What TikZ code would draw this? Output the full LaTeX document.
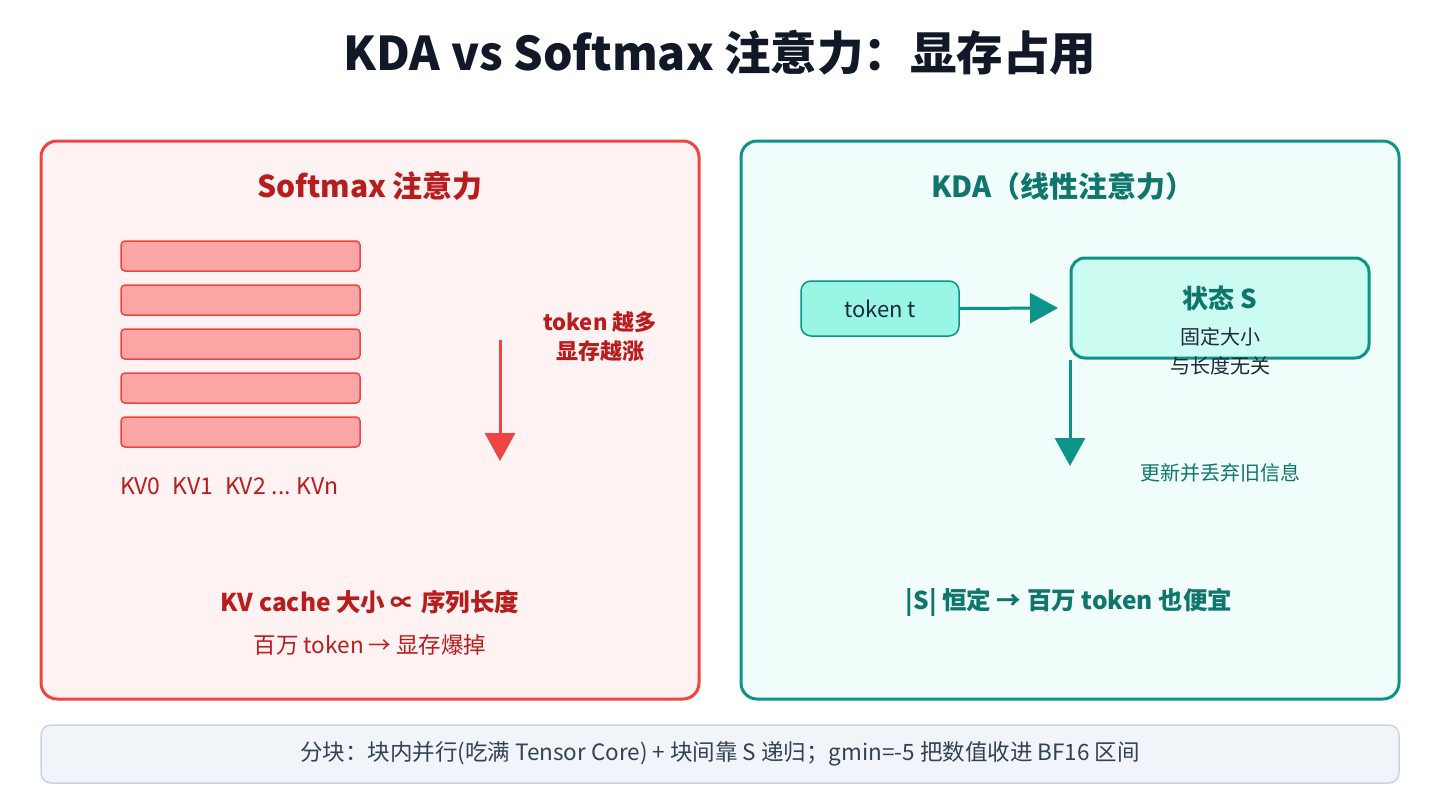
\documentclass[tikz,border=0pt]{standalone}
\usepackage{fontspec}
\setmainfont{Noto Sans CJK SC}
\usetikzlibrary{arrows.meta}
\definecolor{navy}{HTML}{111827}
\definecolor{redline}{HTML}{EF4444}
\definecolor{redfill}{HTML}{FEF2F2}
\definecolor{redtext}{HTML}{B91C1C}
\definecolor{barfill}{HTML}{FCA5A5}
\definecolor{tealline}{HTML}{0D9488}
\definecolor{tealfill}{HTML}{F0FDFA}
\definecolor{tealtext}{HTML}{0F766E}
\definecolor{tokfill}{HTML}{99F6E4}
\definecolor{statefill}{HTML}{CCFBF1}
\definecolor{slate}{HTML}{1E293B}
\definecolor{notefill}{HTML}{F1F5F9}
\definecolor{noteline}{HTML}{CBD5E1}
\definecolor{notetext}{HTML}{334155}
\newcommand{\fs}[1]{\fontsize{#1}{#1}\selectfont}
\tikzset{
  panel/.style={draw=#1, line width=3pt, rounded corners=16pt},
  kvbar/.style={draw=redline, fill=barfill, line width=1.5pt, rounded corners=4pt},
  bigarrow/.style={draw=#1, line width=3pt, -{Triangle[length=28pt,width=30pt,fill=#1]}},
  txt/.style={inner sep=0pt, anchor=center},
}
\begin{document}
\begin{tikzpicture}[x=1pt,y=-1pt]
\useasboundingbox (0,0) rectangle (1440,800);
\fill[white] (0,0) rectangle (1440,800);
% title
\node[txt, text=navy, font=\fs{46.5}\bfseries] (title) at (720,53) {KDA vs Softmax 注意力：显存占用};
% left panel
\draw[panel=redline, fill=redfill] (41,141) rectangle (699,699);
\node[txt, text=redtext, font=\fs{30}\bfseries] (ltitle) at (370,186) {Softmax 注意力};
\foreach \i in {0,...,4}{
  \draw[kvbar] (121,241+44*\i) rectangle (360,271+44*\i);
}
\node[txt, anchor=west, text=redtext, font=\fs{23}] (kvlab) at (120,486) {KV0\hspace{12pt}KV1\hspace{12pt}KV2\hspace{6pt}...\hspace{6pt}KVn};
\coordinate (la1) at (500,340);
\coordinate (la2) at (500,461);
\draw[bigarrow=redline] (la1) -- (la2);
\node[txt, text=redtext, font=\fs{22}\bfseries, align=center] (more) at (600,337) {token 越多\\[7pt]显存越涨};
\node[txt, text=redtext, font=\fs{24.5}\bfseries] (lsum) at (370,602) {KV cache 大小 ∝ 序列长度};
\node[txt, text=redtext, font=\fs{22.5}] (lsub) at (370,645) {百万 token → 显存爆掉};
% right panel
\draw[panel=tealline, fill=tealfill] (741,141) rectangle (1399,699);
\node[txt, text=tealtext, font=\fs{29}\bfseries] (rtitle) at (1063,186) {KDA（线性注意力）};
\node[draw=tealline, fill=tokfill, line width=1.5pt, rounded corners=10pt, minimum width=158pt, minimum height=55pt, inner sep=0pt, text=slate, font=\fs{22}] (tok) at (880,308.5) {token t};
\node[draw=tealline, fill=statefill, line width=3pt, rounded corners=14pt, minimum width=298pt, minimum height=100pt, inner sep=0pt] (state) at (1220,308) {};
\node[txt, text=tealtext, font=\fs{26}\bfseries] (stitle) at (1220,298) {状态 S};
\node[txt, text=slate, font=\fs{20}] (s1) at (1220,337) {固定大小};
\node[txt, text=slate, font=\fs{20}] (s2) at (1220,366) {与长度无关};
\coordinate (ra) at (1058,308);
\draw[bigarrow=tealline] (tok.east) -- (ra);
\coordinate (rd1) at (1070,360);
\coordinate (rd2) at (1070,466);
\draw[bigarrow=tealline] (rd1) -- (rd2);
\node[txt, text=tealtext, font=\fs{20}] (upd) at (1220,473) {更新并丢弃旧信息};
\node[txt, text=tealtext, font=\fs{24.5}\bfseries] (rsum) at (1069,602) {|S| 恒定 → 百万 token 也便宜};
% bottom note
\node[draw=noteline, fill=notefill, line width=1.5pt, rounded corners=10pt, minimum width=1358pt, minimum height=58pt, inner sep=0pt, text=notetext, font=\fs{22.5}] (note) at (720,754) {分块：块内并行(吃满 Tensor Core) + 块间靠 S 递归；gmin=-5 把数值收进 BF16 区间};
\end{tikzpicture}
\end{document}
